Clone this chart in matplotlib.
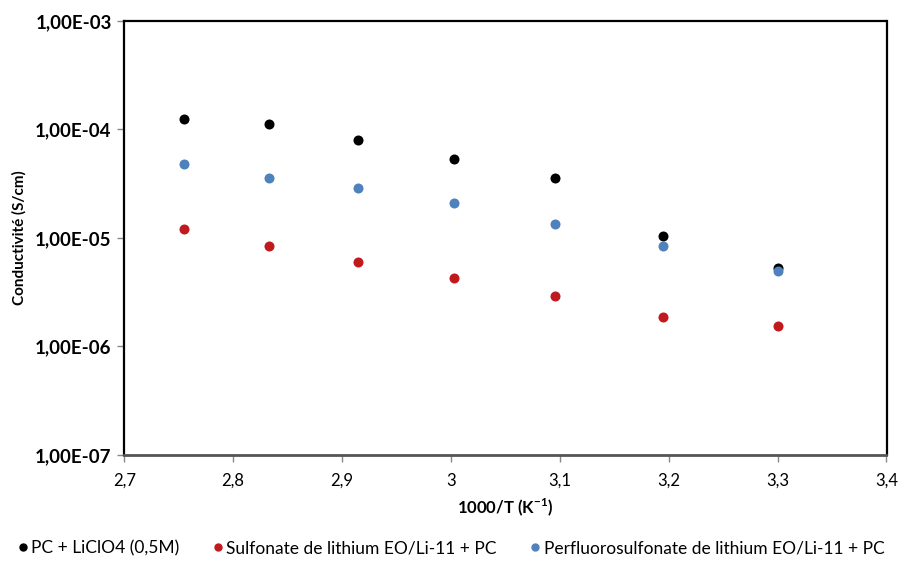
import matplotlib.pyplot as plt
from matplotlib.lines import Line2D

plt.rcParams['font.family'] = ['Lato', 'DejaVu Sans']

# 1000/T values (K^-1)
inv_t = [2.755, 2.833, 2.915, 3.003, 3.096, 3.195, 3.300]

# conductivities (S/cm)
pc_liclo4 = [1.25e-4, 1.12e-4, 8.0e-5, 5.4e-5, 3.6e-5, 1.04e-5, 5.3e-6]
sulfonate = [1.21e-5, 8.4e-6, 6.0e-6, 4.3e-6, 2.9e-6, 1.88e-6, 1.56e-6]
perfluoro = [4.8e-5, 3.6e-5, 2.88e-5, 2.1e-5, 1.36e-5, 8.4e-6, 4.95e-6]

labels = ['PC + LiClO4 (0,5M)',
          'Sulfonate de lithium EO/Li-11 + PC',
          'Perfluorosulfonate de lithium EO/Li-11 + PC']
colors = ['black', '#C0191E', '#4F81BD']

y_ticks = [1e-7, 1e-6, 1e-5, 1e-4, 1e-3]
y_tick_labels = ['1,00E-07', '1,00E-06', '1,00E-05', '1,00E-04', '1,00E-03']
x_ticks = [2.7, 2.8, 2.9, 3.0, 3.1, 3.2, 3.3, 3.4]
x_tick_labels = ['2,7', '2,8', '2,9', '3', '3,1', '3,2', '3,3', '3,4']

fig = plt.figure(figsize=(9, 5.75), dpi=100)
ax = fig.add_axes([0.138, 0.2087, 0.847, 0.7548])

for ys, c in zip([pc_liclo4, sulfonate, perfluoro], colors):
    ax.scatter(inv_t, ys, s=52, color=c, zorder=3, linewidths=0)

ax.set_yscale('log')
ax.set_ylim(1e-7, 1e-3)
ax.set_xlim(2.7, 3.4)
ax.set_yticks(y_ticks)
ax.set_yticklabels(y_tick_labels, fontweight='bold', fontsize=13.5)
ax.minorticks_off()
ax.set_xticks(x_ticks)
ax.set_xticklabels(x_tick_labels, fontsize=12)
ax.tick_params(axis='both', direction='out', length=5, color='#888888', width=1)
ax.tick_params(axis='x', pad=8)
ax.tick_params(axis='y', pad=4)

for side in ['top', 'right', 'left']:
    ax.spines[side].set_color('black')
    ax.spines[side].set_linewidth(1.6)
ax.spines['bottom'].set_color('#555555')
ax.spines['bottom'].set_linewidth(2)

ax.set_xlabel('1000/T (K$^{\\mathregular{-1}}$)', fontweight='bold', fontsize=12, labelpad=5)
ax.set_ylabel('Conductivité (S/cm)', fontweight='bold', fontsize=11, labelpad=6)

handles = [Line2D([], [], marker='o', linestyle='', color=c, markersize=5) for c in colors]
fig.legend(handles, labels, loc='center', bbox_to_anchor=(0.5, 0.047), ncol=3,
           frameon=False, fontsize=12.5, handletextpad=0.1, columnspacing=1.8,
           handlelength=0.8)

fig.savefig('out.png', dpi=100)
